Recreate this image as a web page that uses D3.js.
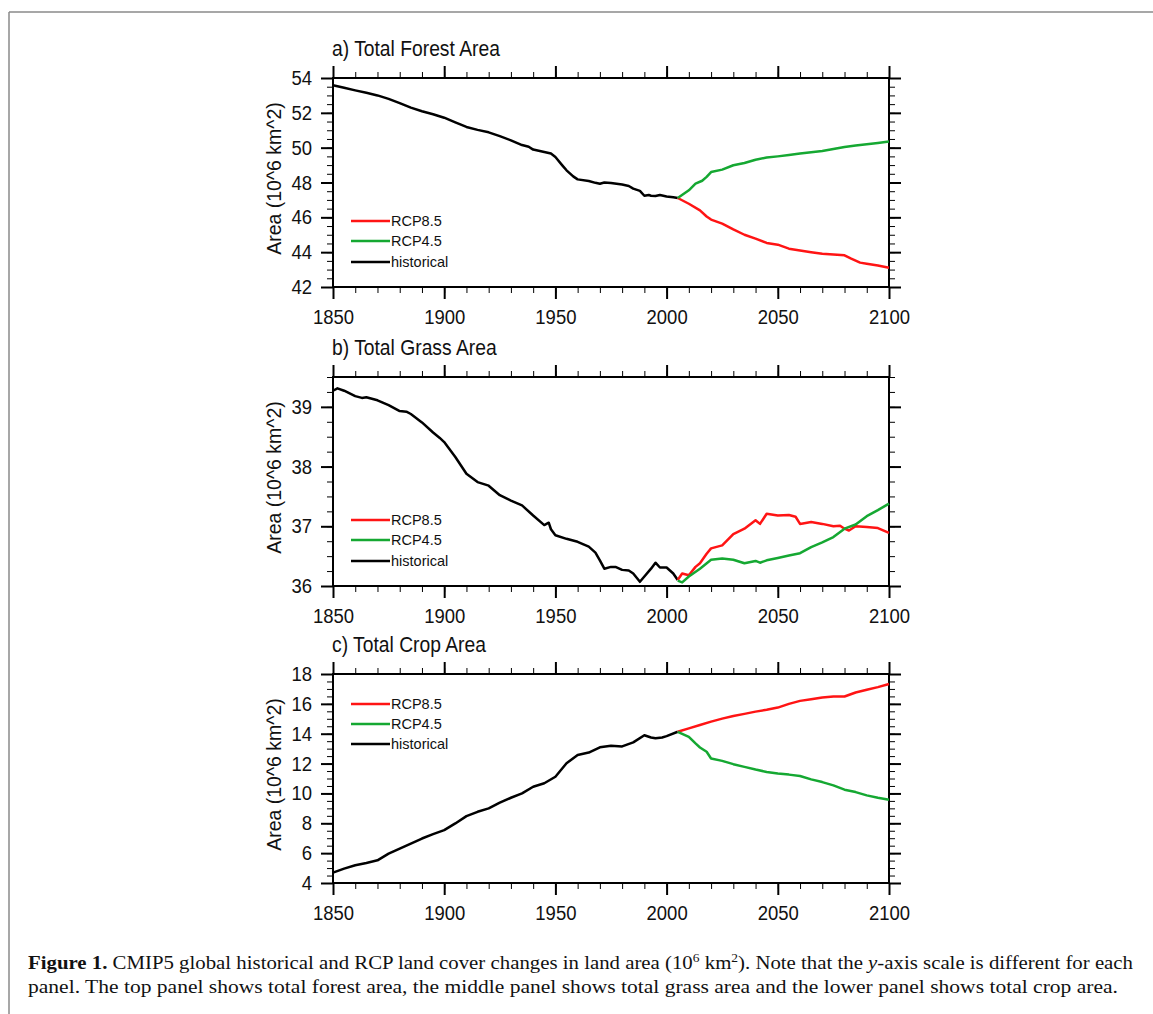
<!DOCTYPE html>
<html>
<head>
<meta charset="utf-8">
<script src="https://cdn.jsdelivr.net/npm/d3@7"></script>
<style>
  html, body { margin: 0; padding: 0; background: #fff; }
  svg { display: block; }
</style>
</head>
<body>
<svg id="chart" width="1153" height="1014"></svg>
<script>
// ---------------- DATA ----------------
const xTickLabels = [1850, 1900, 1950, 2000, 2050, 2100];
const seriesNames = ["RCP8.5", "RCP4.5", "historical"];

// a) Total Forest Area
const forestHist = [[1850,53.58],[1855,53.44],[1860,53.29],[1865,53.15],[1870,53.0],[1875,52.8],[1880,52.56],[1885,52.3],[1890,52.09],[1895,51.92],[1900,51.72],[1905,51.45],[1910,51.19],[1915,51.02],[1920,50.88],[1925,50.66],[1930,50.42],[1935,50.15],[1938,50.05],[1940,49.89],[1945,49.75],[1948,49.66],[1950,49.46],[1953,49.0],[1955,48.7],[1958,48.35],[1960,48.18],[1965,48.09],[1968,47.98],[1970,47.93],[1972,48.0],[1975,47.97],[1980,47.88],[1983,47.8],[1985,47.65],[1988,47.52],[1990,47.24],[1992,47.28],[1993,47.24],[1995,47.22],[1997,47.28],[2000,47.2],[2003,47.15],[2005,47.11]];
const forestRCP85 = [[2005,47.11],[2010,46.78],[2015,46.4],[2018,46.05],[2020,45.87],[2025,45.64],[2030,45.31],[2035,45.0],[2040,44.78],[2045,44.53],[2050,44.43],[2055,44.2],[2060,44.1],[2065,44.0],[2070,43.91],[2075,43.86],[2080,43.82],[2083,43.63],[2087,43.4],[2090,43.34],[2095,43.24],[2100,43.11]];
const forestRCP45 = [[2005,47.11],[2010,47.55],[2013,47.93],[2016,48.1],[2018,48.32],[2020,48.6],[2025,48.74],[2030,48.99],[2035,49.12],[2040,49.31],[2045,49.43],[2050,49.5],[2055,49.58],[2060,49.66],[2065,49.74],[2070,49.81],[2075,49.92],[2080,50.04],[2085,50.12],[2090,50.19],[2095,50.27],[2100,50.36]];

// b) Total Grass Area
const grassHist = [[1850,39.27],[1852,39.31],[1855,39.27],[1860,39.18],[1863,39.15],[1865,39.16],[1870,39.11],[1875,39.03],[1880,38.93],[1883,38.92],[1885,38.88],[1890,38.74],[1895,38.57],[1898,38.48],[1900,38.41],[1905,38.16],[1910,37.88],[1915,37.74],[1920,37.68],[1925,37.52],[1930,37.43],[1935,37.35],[1940,37.18],[1945,37.02],[1947,37.06],[1948,36.95],[1950,36.85],[1955,36.79],[1960,36.74],[1965,36.66],[1968,36.56],[1970,36.43],[1972,36.29],[1975,36.32],[1977,36.32],[1980,36.27],[1983,36.26],[1985,36.21],[1988,36.07],[1990,36.16],[1993,36.29],[1995,36.39],[1997,36.31],[2000,36.31],[2003,36.21],[2005,36.1]];
const grassRCP85 = [[2005,36.1],[2007,36.21],[2010,36.18],[2013,36.32],[2015,36.38],[2018,36.54],[2020,36.63],[2025,36.68],[2030,36.87],[2035,36.96],[2040,37.1],[2042,37.04],[2045,37.21],[2050,37.18],[2055,37.19],[2058,37.16],[2060,37.04],[2065,37.07],[2070,37.04],[2075,37.0],[2078,37.01],[2080,36.96],[2082,36.93],[2085,37.0],[2090,36.99],[2095,36.97],[2100,36.89]];
const grassRCP45 = [[2005,36.09],[2007,36.06],[2010,36.16],[2015,36.29],[2020,36.44],[2025,36.46],[2030,36.44],[2035,36.38],[2040,36.42],[2042,36.39],[2045,36.43],[2050,36.47],[2055,36.51],[2060,36.55],[2065,36.65],[2070,36.73],[2075,36.82],[2080,36.96],[2085,37.03],[2090,37.17],[2095,37.27],[2100,37.38]];

// c) Total Crop Area
const cropHist = [[1850,4.69],[1855,4.96],[1860,5.19],[1865,5.34],[1870,5.52],[1875,5.97],[1880,6.31],[1885,6.64],[1890,6.98],[1895,7.27],[1900,7.54],[1905,7.99],[1910,8.48],[1915,8.77],[1920,9.0],[1925,9.38],[1930,9.71],[1935,10.0],[1940,10.45],[1945,10.68],[1950,11.12],[1955,12.02],[1960,12.58],[1965,12.74],[1970,13.09],[1975,13.2],[1980,13.15],[1985,13.42],[1990,13.9],[1993,13.75],[1995,13.69],[1998,13.75],[2000,13.84],[2005,14.13]];
const cropRCP85 = [[2005,14.13],[2010,14.36],[2015,14.58],[2020,14.81],[2025,15.01],[2030,15.19],[2035,15.33],[2040,15.48],[2045,15.6],[2050,15.75],[2055,16.0],[2060,16.2],[2065,16.31],[2070,16.43],[2075,16.49],[2080,16.49],[2085,16.76],[2090,16.94],[2095,17.12],[2100,17.33]];
const cropRCP45 = [[2005,14.13],[2010,13.79],[2013,13.35],[2015,13.08],[2018,12.79],[2020,12.34],[2025,12.18],[2030,11.96],[2035,11.78],[2040,11.6],[2045,11.44],[2050,11.33],[2055,11.26],[2060,11.17],[2065,10.94],[2070,10.76],[2075,10.54],[2080,10.25],[2085,10.09],[2090,9.87],[2095,9.71],[2100,9.58]];

const forestYTicks = [42, 44, 46, 48, 50, 52, 54];
const grassYTicks = [36, 37, 38, 39];
const cropYTicks = [4, 6, 8, 10, 12, 14, 16, 18];

const panels = [
  { title: "a) Total Forest Area", hist: forestHist, r85: forestRCP85, r45: forestRCP45,
    domain: [42, 54], yTicks: forestYTicks, yMinorStep: 0.5, top: 78, bottom: 287, legendOff: [143, 163, 184] },
  { title: "b) Total Grass Area", hist: grassHist, r85: grassRCP85, r45: grassRCP45,
    domain: [36, 39.5], yTicks: grassYTicks, yMinorStep: 0.25, top: 377, bottom: 586, legendOff: [143, 163, 184] },
  { title: "c) Total Crop Area", hist: cropHist, r85: cropRCP85, r45: cropRCP45,
    domain: [4, 18], yTicks: cropYTicks, yMinorStep: 0.5, top: 674, bottom: 883, legendOff: [30, 50, 70] }
];

const colors = { "RCP8.5": "#ff1414", "RCP4.5": "#15a832", "historical": "#000000" };

// ---------------- DRAW ----------------
const svg = d3.select("#chart");
const FONT = '"Liberation Sans", Arial, Helvetica, sans-serif';
const L = 333, R = 889;
const STRETCH = 1.1;

// page border (top and left)
svg.append("line").attr("x1", 9).attr("y1", 12).attr("x2", 1153).attr("y2", 12)
  .attr("stroke", "#8a8a8a").attr("stroke-width", 1.5);
svg.append("line").attr("x1", 9).attr("y1", 12).attr("x2", 9).attr("y2", 1014)
  .attr("stroke", "#8a8a8a").attr("stroke-width", 1.5);

const xMinor = d3.range(1850, 2101, 10);

panels.forEach(p => {
  const g = svg.append("g");
  const x = d3.scaleLinear().domain([1850, 2100]).range([L, R]);
  const y = d3.scaleLinear().domain(p.domain).range([p.bottom, p.top]);
  const yMinor = d3.range(p.domain[0], p.domain[1] + 1e-9, p.yMinorStep);

  const strip = sel => sel.call(s => s.select(".domain").remove());
  const styleTicks = (sel, w) => sel.selectAll(".tick line").attr("stroke", "#000").attr("stroke-width", w);

  // minor ticks
  g.append("g").attr("transform", `translate(0,${p.bottom})`)
    .call(d3.axisBottom(x).tickValues(xMinor).tickSize(6).tickFormat("")).call(strip).call(s => styleTicks(s, 1));
  g.append("g").attr("transform", `translate(0,${p.top})`)
    .call(d3.axisTop(x).tickValues(xMinor).tickSize(6).tickFormat("")).call(strip).call(s => styleTicks(s, 1));
  g.append("g").attr("transform", `translate(${L},0)`)
    .call(d3.axisLeft(y).tickValues(yMinor).tickSize(6).tickFormat("")).call(strip).call(s => styleTicks(s, 1));
  g.append("g").attr("transform", `translate(${R},0)`)
    .call(d3.axisRight(y).tickValues(yMinor).tickSize(6).tickFormat("")).call(strip).call(s => styleTicks(s, 1));

  // major ticks with labels
  const xb = g.append("g").attr("transform", `translate(0,${p.bottom})`)
    .call(d3.axisBottom(x).tickValues(xTickLabels).tickSize(12).tickFormat(d3.format("d")))
    .call(strip).call(s => styleTicks(s, 2));
  xb.selectAll("text").attr("y", 0).attr("dy", null)
    .attr("transform", `translate(0,37) scale(1,${STRETCH})`)
    .attr("font-size", 18.5).attr("font-family", FONT).attr("fill", "#111");
  g.append("g").attr("transform", `translate(0,${p.top})`)
    .call(d3.axisTop(x).tickValues(xTickLabels).tickSize(12).tickFormat("")).call(strip).call(s => styleTicks(s, 2));
  const yl = g.append("g").attr("transform", `translate(${L},0)`)
    .call(d3.axisLeft(y).tickValues(p.yTicks).tickSize(12).tickFormat(d3.format("d")))
    .call(strip).call(s => styleTicks(s, 2));
  yl.selectAll("text").attr("x", 0).attr("dy", "0.32em")
    .attr("transform", `translate(-21,0) scale(1,${STRETCH})`)
    .attr("font-size", 18.5).attr("font-family", FONT).attr("fill", "#111");
  g.append("g").attr("transform", `translate(${R},0)`)
    .call(d3.axisRight(y).tickValues(p.yTicks).tickSize(12).tickFormat("")).call(strip).call(s => styleTicks(s, 2));

  // frame
  g.append("rect").attr("x", L).attr("y", p.top).attr("width", R - L).attr("height", p.bottom - p.top)
    .attr("fill", "none").attr("stroke", "#000").attr("stroke-width", 2);

  // lines
  const line = d3.line().x(d => x(d[0])).y(d => y(d[1]));
  g.append("path").datum(p.hist).attr("d", line).attr("fill", "none")
    .attr("stroke", colors.historical).attr("stroke-width", 2.5).attr("stroke-linejoin", "round");
  g.append("path").datum(p.r85).attr("d", line).attr("fill", "none")
    .attr("stroke", colors["RCP8.5"]).attr("stroke-width", 2.5).attr("stroke-linejoin", "round");
  g.append("path").datum(p.r45).attr("d", line).attr("fill", "none")
    .attr("stroke", colors["RCP4.5"]).attr("stroke-width", 2.5).attr("stroke-linejoin", "round");

  // title
  g.append("text").attr("transform", `translate(${L - 1},${p.top - 22}) scale(1,${STRETCH})`)
    .attr("font-family", FONT).attr("font-size", 19.3).attr("fill", "#111").text(p.title);

  // y label
  g.append("text").attr("transform", `translate(281,${(p.top + p.bottom) / 2 - 4}) rotate(-90)`)
    .attr("text-anchor", "middle").attr("font-family", FONT).attr("font-size", 19.5).attr("fill", "#111")
    .text("Area (10^6 km^2)");

  // legend
  seriesNames.forEach((name, i) => {
    const ly = p.top + p.legendOff[i];
    g.append("line").attr("x1", 351).attr("x2", 390).attr("y1", ly).attr("y2", ly)
      .attr("stroke", colors[name]).attr("stroke-width", 2.5);
    g.append("text").attr("x", 391).attr("y", ly).attr("dy", "0.35em")
      .attr("font-family", FONT).attr("font-size", 14.5).attr("fill", "#111").text(name);
  });
});

// caption
const SERIF = '"Liberation Serif", "DejaVu Serif", serif';
const c1 = svg.append("text").attr("x", 28).attr("y", 969).attr("font-family", SERIF).attr("font-size", 18.5)
  .attr("fill", "#111").attr("textLength", 1105).attr("lengthAdjust", "spacingAndGlyphs");
c1.append("tspan").attr("font-weight", "bold").text("Figure 1. ");
c1.append("tspan").text("CMIP5 global historical and RCP land cover changes in land area (10");
c1.append("tspan").attr("font-size", 12).attr("dy", -7).text("6");
c1.append("tspan").attr("dy", 7).text(" km");
c1.append("tspan").attr("font-size", 12).attr("dy", -7).text("2");
c1.append("tspan").attr("dy", 7).text("). Note that the ");
c1.append("tspan").attr("font-style", "italic").text("y");
c1.append("tspan").text("-axis scale is different for each");

svg.append("text").attr("x", 28).attr("y", 993).attr("font-family", SERIF).attr("font-size", 18.5)
  .attr("fill", "#111").attr("textLength", 1090).attr("lengthAdjust", "spacingAndGlyphs")
  .text("panel. The top panel shows total forest area, the middle panel shows total grass area and the lower panel shows total crop area.");
</script>
</body>
</html>
